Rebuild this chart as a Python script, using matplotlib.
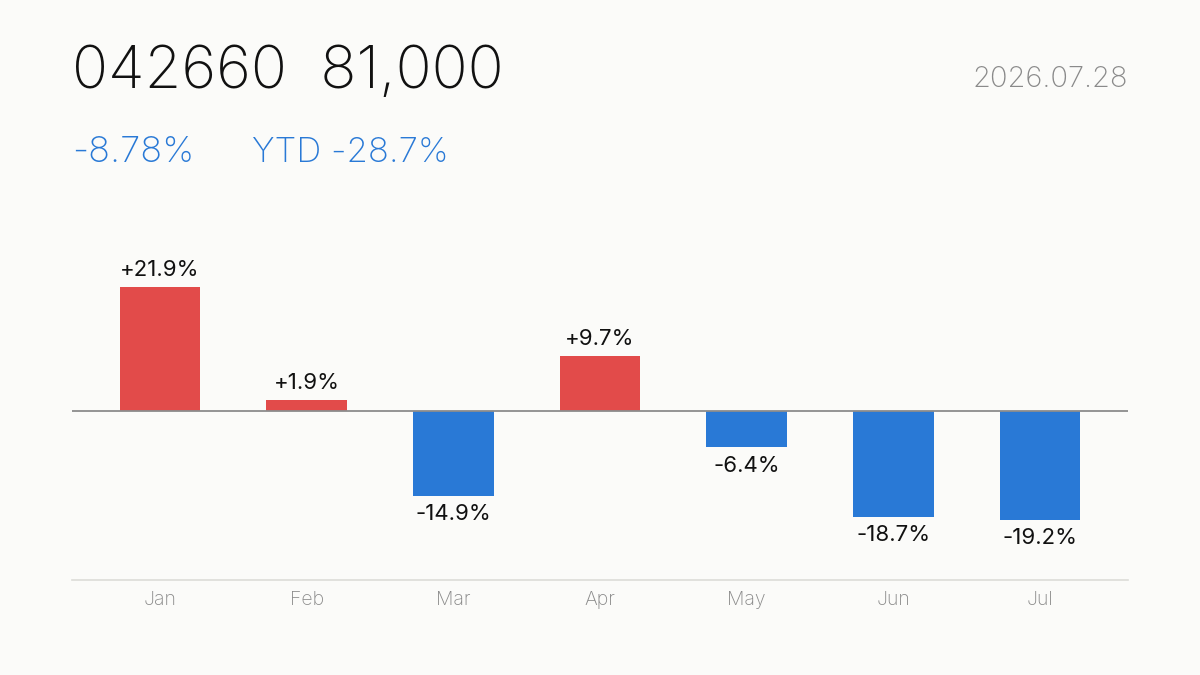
import numpy as np
import matplotlib.pyplot as plt

plt.rcParams['font.family'] = ['Inter', 'DejaVu Sans']

months = ["Jan", "Feb", "Mar", "Apr", "May", "Jun", "Jul"]
returns = [21.9, 1.9, -14.9, 9.7, -6.4, -18.7, -19.2]
ticker = "042660"
price = "81,000"
date = "2026.07.28"
day_change = "-8.78%"
ytd_change = "YTD -28.7%"

bg = "#fbfbf9"
red = "#e24b4a"
blue = "#2979d6"

fig = plt.figure(figsize=(12, 6.75), dpi=100, facecolor=bg)
ax = fig.add_axes([0.06, 0.1407, 0.88, 0.563])
ax.set_facecolor(bg)

x = np.arange(len(months))
colors = [red if v >= 0 else blue for v in returns]
ax.bar(x, returns, width=0.55, color=colors, zorder=2)
ax.axhline(0, color="#8c8c8c", lw=1.3, zorder=3)

for xi, v in zip(x, returns):
    if v >= 0:
        ax.annotate(f"+{v:.1f}%", (xi, v), xytext=(0, 5), textcoords="offset points",
                    ha="center", va="bottom", fontsize=16, color="#111111")
    else:
        ax.annotate(f"{v:.1f}%", (xi, v), xytext=(0, -6), textcoords="offset points",
                    ha="center", va="top", fontsize=16, color="#111111")

ax.set_xlim(-0.6, 6.6)
ax.set_ylim(-29.8, 37.2)
ax.set_xticks(x)
ax.set_xticklabels(months, fontsize=14, color="#8a8a8a", fontweight="light")
ax.tick_params(axis="x", length=0, pad=8)
ax.set_yticks([])
for s in ["top", "left", "right"]:
    ax.spines[s].set_visible(False)
ax.spines["bottom"].set_color("#dcdcd8")
ax.spines["bottom"].set_linewidth(1.2)

fig.text(0.06, 1 - 88 / 675, f"{ticker}  {price}", fontsize=43, color="#111111", ha="left", va="baseline", fontweight="light")
fig.text(0.94, 1 - 87 / 675, date, fontsize=21, color="#8a8a8a", ha="right", va="baseline", fontweight="light")
fig.text(0.06, 1 - 162 / 675, day_change, fontsize=26, color=blue, ha="left", va="baseline", fontweight="light")
fig.text(0.21, 1 - 162 / 675, ytd_change, fontsize=25, color=blue, ha="left", va="baseline", fontweight="light")

fig.savefig("out.png", dpi=100, facecolor=bg)
